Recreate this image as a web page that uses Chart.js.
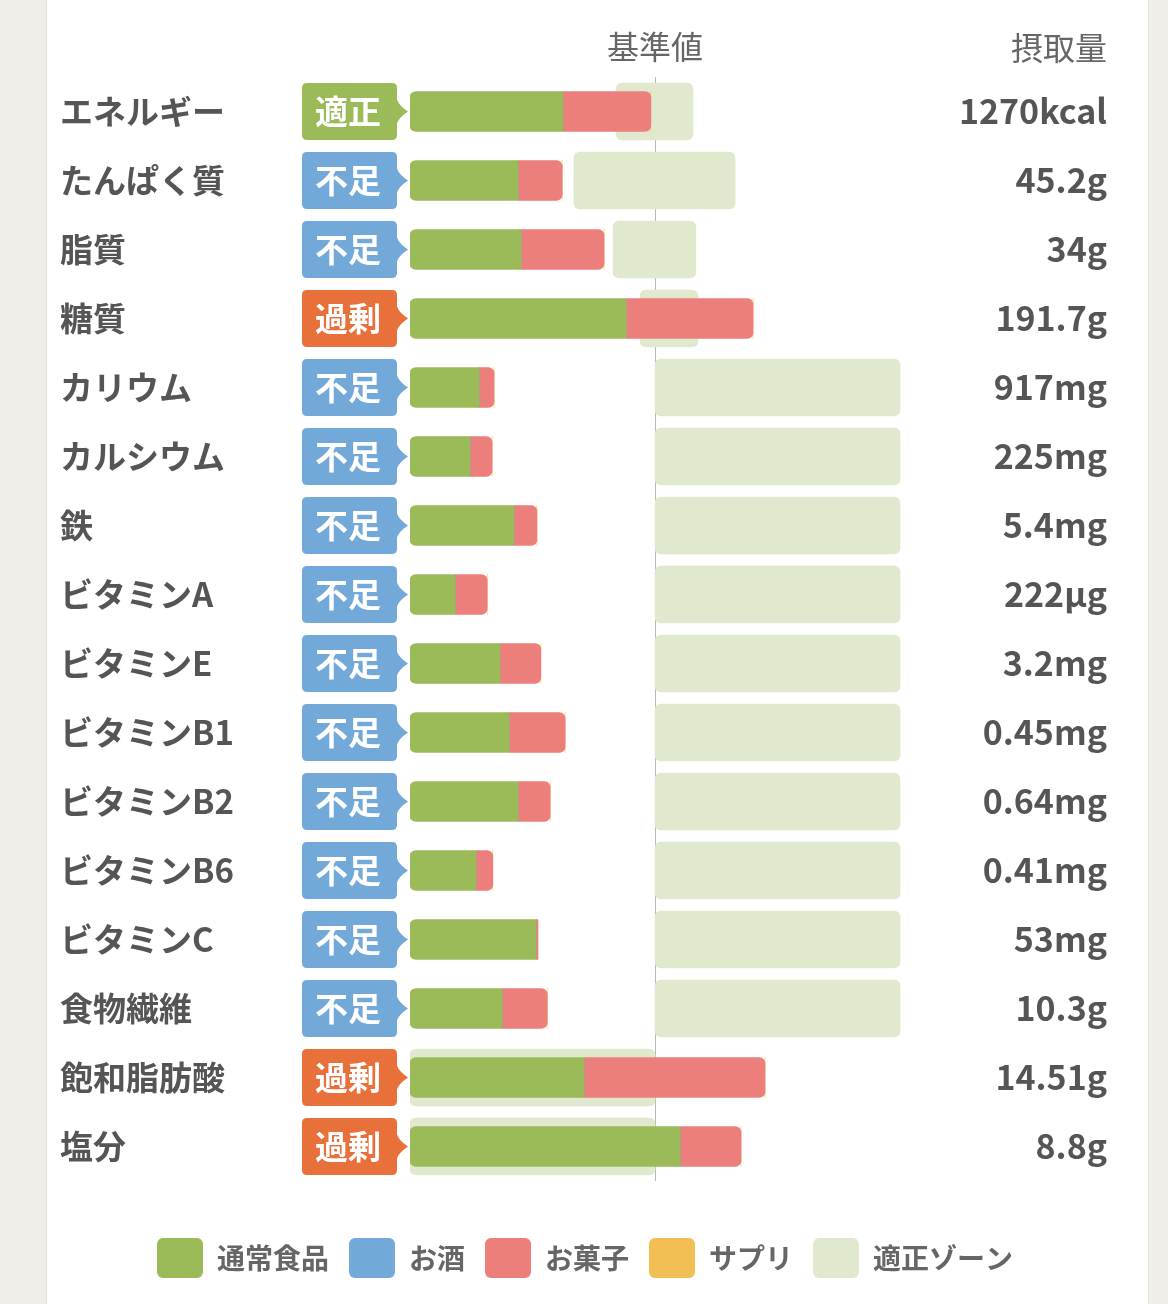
<!DOCTYPE html>
<html lang="ja">
<head>
<meta charset="utf-8">
<title>栄養素バランス</title>
<script src="https://cdn.jsdelivr.net/npm/chart.js@4.4.0/dist/chart.umd.min.js"></script>
<style>
  html, body { margin: 0; padding: 0; }
  body { width: 1168px; height: 1304px; background: #efeee9; position: relative; overflow: hidden; }
  .card { position: absolute; left: 46px; top: 0; width: 1101px; height: 1304px; background: #fff;
          border-left: 1px solid #e2e1dc; border-right: 1px solid #e2e1dc; }
  #chart { position: absolute; left: 0; top: 0; }
</style>
</head>
<body>
<div class="card"></div>
<canvas id="chart" width="1168" height="1304"></canvas>
<script>
// 栄養素ごとのデータ（基準値 = 100 とした割合）
const categories = ['エネルギー', 'たんぱく質', '脂質', '糖質', 'カリウム', 'カルシウム', '鉄', 'ビタミンA',
    'ビタミンE', 'ビタミンB1', 'ビタミンB2', 'ビタミンB6', 'ビタミンC', '食物繊維', '飽和脂肪酸', '塩分'];
const statusLabels = ['適正', '不足', '不足', '過剰', '不足', '不足', '不足', '不足',
    '不足', '不足', '不足', '不足', '不足', '不足', '過剰', '過剰'];
const intakeLabels = ['1270kcal', '45.2g', '34g', '191.7g', '917mg', '225mg', '5.4mg', '222µg',
    '3.2mg', '0.45mg', '0.64mg', '0.41mg', '53mg', '10.3g', '14.51g', '8.8g'];
const normalFood = [62.4, 44.1, 45.3, 88.2, 28.2, 24.5, 42.4, 18.4, 36.7, 40.4, 44.1, 26.9, 51.4, 37.6, 71.0, 110.2];
const alcohol = [0, 0, 0, 0, 0, 0, 0, 0, 0, 0, 0, 0, 0, 0, 0, 0];
const sweets = [35.9, 18.0, 33.9, 51.8, 6.1, 9.0, 9.4, 13.1, 16.7, 22.9, 13.1, 6.9, 0.8, 18.4, 73.9, 24.9];
const supplement = [0, 0, 0, 0, 0, 0, 0, 0, 0, 0, 0, 0, 0, 0, 0, 0];
const zoneLow = [84.1, 66.9, 82.9, 93.9, 100, 100, 100, 100, 100, 100, 100, 100, 100, 100, 0, 0];
const zoneHigh = [115.5, 132.7, 116.7, 117.6, 200, 200, 200, 200, 200, 200, 200, 200, 200, 200, 100, 100];

const FONT = "'Noto Sans CJK JP', 'Noto Sans', sans-serif";
const statusColors = { '適正': '#9bbb59', '不足': '#72a9d9', '過剰': '#e8703a' };

// 左の判定バッジと右の摂取量
const sidePlugin = {
    id: 'sideLabels',
    afterDraw(chart) {
        const ctx = chart.ctx;
        const yScale = chart.scales.y;
        ctx.save();
        categories.forEach((c, i) => {
            const cy = yScale.getPixelForValue(i);
            const x0 = 302, x1 = 397, tip = 408, h = 57, r = 5;
            const top = cy - h / 2, bottom = cy + h / 2;
            ctx.fillStyle = statusColors[statusLabels[i]];
            ctx.beginPath();
            ctx.moveTo(x0 + r, top);
            ctx.lineTo(x1 - r, top);
            ctx.quadraticCurveTo(x1, top, x1, top + r);
            ctx.lineTo(x1, cy - 12);
            ctx.quadraticCurveTo(x1 + 2, cy - 6, tip, cy);
            ctx.quadraticCurveTo(x1 + 2, cy + 6, x1, cy + 12);
            ctx.lineTo(x1, bottom - r);
            ctx.quadraticCurveTo(x1, bottom, x1 - r, bottom);
            ctx.lineTo(x0 + r, bottom);
            ctx.quadraticCurveTo(x0, bottom, x0, bottom - r);
            ctx.lineTo(x0, top + r);
            ctx.quadraticCurveTo(x0, top, x0 + r, top);
            ctx.closePath();
            ctx.fill();

            ctx.fillStyle = '#fff';
            ctx.font = 'bold 33px ' + FONT;
            ctx.textAlign = 'center';
            ctx.textBaseline = 'middle';
            ctx.fillText(statusLabels[i], 348, cy);

            ctx.fillStyle = '#555';
            ctx.font = 'bold 34px ' + FONT;
            ctx.textAlign = 'right';
            ctx.fillText(intakeLabels[i], 1107, cy);
        });
        ctx.fillStyle = '#666';
        ctx.font = '32px ' + FONT;
        ctx.textAlign = 'right';
        ctx.textBaseline = 'middle';
        ctx.fillText('摂取量', 1107, 48);
        ctx.restore();
    }
};

const foodBar = {
    stack: 'food',
    grouped: false,
    barThickness: 40,
    borderSkipped: false,
    order: 1
};

new Chart(document.getElementById('chart'), {
    type: 'bar',
    data: {
        labels: categories,
        datasets: [
            { ...foodBar, label: '通常食品', data: normalFood, backgroundColor: '#9bbb59',
              borderRadius: { topLeft: 6, bottomLeft: 6, topRight: 0, bottomRight: 0 } },
            { ...foodBar, label: 'お酒', data: alcohol, backgroundColor: '#72a9d9', borderRadius: 0 },
            { ...foodBar, label: 'お菓子', data: sweets, backgroundColor: '#ec7f7c',
              borderRadius: { topLeft: 0, bottomLeft: 0, topRight: 6, bottomRight: 6 } },
            { ...foodBar, label: 'サプリ', data: supplement, backgroundColor: '#f3bf55', borderRadius: 0 },
            {
                label: '適正ゾーン',
                data: zoneLow.map((lo, i) => [lo, zoneHigh[i]]),
                backgroundColor: '#e0e9cd',
                stack: 'zone',
                grouped: false,
                barThickness: 57,
                borderRadius: 6,
                borderSkipped: false,
                order: 2
            }
        ]
    },
    options: {
        indexAxis: 'y',
        responsive: false,
        animation: false,
        layout: { padding: { left: 60, right: 58, top: 0, bottom: 16 } },
        scales: {
            x: {
                type: 'linear',
                position: 'top',
                stacked: true,
                min: 0,
                max: 285.7,
                z: 1,
                border: { display: false },
                grid: { drawTicks: false, color: '#b8b8b8', lineWidth: 1 },
                afterBuildTicks: (s) => { s.ticks = [{ value: 100 }]; },
                afterFit: (s) => { s.height = 77; },
                ticks: {
                    callback: () => '基準値',
                    font: { family: FONT, size: 32 },
                    color: '#666',
                    padding: 11,
                    maxRotation: 0
                }
            },
            y: {
                grid: { display: false },
                border: { display: false },
                afterFit: (s) => { s.width = 350; },
                ticks: {
                    crossAlign: 'far',
                    font: { family: FONT, size: 33, weight: 'bold' },
                    color: '#555'
                }
            },
            pad: {
                type: 'linear',
                position: 'bottom',
                display: true,
                grid: { display: false },
                border: { display: false },
                ticks: { display: false },
                afterFit: (s) => { s.height = 37; }
            }
        },
        plugins: {
            tooltip: { enabled: false },
            legend: {
                position: 'bottom',
                labels: {
                    boxWidth: 46,
                    boxHeight: 40,
                    useBorderRadius: true,
                    borderRadius: 6,
                    padding: 20,
                    color: '#666',
                    font: { family: FONT, size: 28, weight: 'bold' }
                }
            }
        }
    },
    plugins: [sidePlugin]
});
</script>
</body>
</html>
